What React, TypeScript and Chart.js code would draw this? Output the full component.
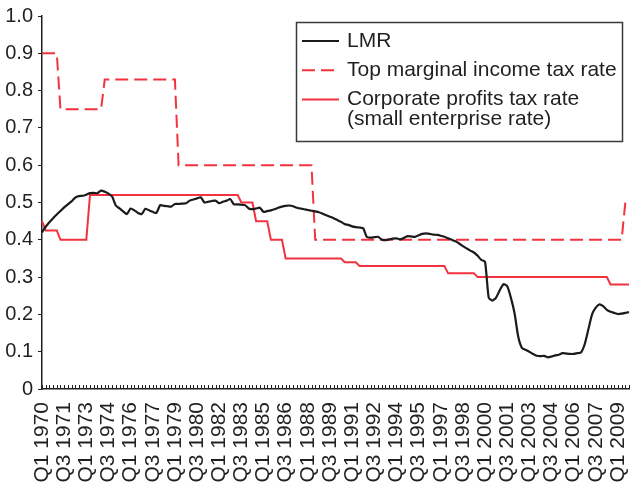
import React, { useEffect, useRef } from 'react';
import { Chart, registerables } from 'chart.js';

Chart.register(...registerables);

// ---- Data ----
const FIRST_YEAR = 1970;
const LAST_YEAR = 2009;
const quarterNames = ['Q1', 'Q2', 'Q3', 'Q4'];
const categories: string[] = [];
for (let y = FIRST_YEAR; y <= LAST_YEAR; y++) {
  for (const q of quarterNames) categories.push(`${q} ${y}`);
}
const LABEL_EVERY = 6; // a tick label every 6 quarters

const yTickValues = [0, 0.1, 0.2, 0.3, 0.4, 0.5, 0.6, 0.7, 0.8, 0.9, 1.0];

const seriesNames = [
  'LMR',
  'Top marginal income tax rate',
  'Corporate profits tax rate\n(small enterprise rate)',
];

// one row per year, Q1..Q4
const lmr = [
  0.42, 0.435, 0.447, 0.458, // 1970
  0.468, 0.477, 0.487, 0.495, // 1971
  0.503, 0.513, 0.517, 0.518, // 1972
  0.521, 0.525, 0.526, 0.525, // 1973
  0.532, 0.529, 0.524, 0.516, // 1974
  0.492, 0.484, 0.476, 0.469, // 1975
  0.484, 0.479, 0.472, 0.469, // 1976
  0.483, 0.479, 0.475, 0.472, // 1977
  0.493, 0.491, 0.49, 0.489, // 1978
  0.496, 0.496, 0.497, 0.498, // 1979
  0.505, 0.508, 0.511, 0.514, // 1980
  0.5, 0.502, 0.504, 0.505, // 1981
  0.498, 0.502, 0.505, 0.509, // 1982
  0.495, 0.495, 0.494, 0.493, // 1983
  0.484, 0.482, 0.484, 0.486, // 1984
  0.475, 0.477, 0.479, 0.482, // 1985
  0.486, 0.489, 0.491, 0.492, // 1986
  0.49, 0.486, 0.484, 0.482, // 1987
  0.48, 0.478, 0.476, 0.474, // 1988
  0.47, 0.466, 0.462, 0.458, // 1989
  0.453, 0.448, 0.442, 0.44, // 1990
  0.436, 0.434, 0.433, 0.431, // 1991
  0.407, 0.406, 0.407, 0.408, // 1992
  0.401, 0.399, 0.401, 0.403, // 1993
  0.404, 0.401, 0.405, 0.41, // 1994
  0.409, 0.408, 0.412, 0.416, // 1995
  0.417, 0.416, 0.414, 0.413, // 1996
  0.411, 0.408, 0.404, 0.4, // 1997
  0.396, 0.39, 0.383, 0.377, // 1998
  0.371, 0.366, 0.357, 0.346, // 1999
  0.341, 0.245, 0.237, 0.245, // 2000
  0.265, 0.281, 0.276, 0.245, // 2001
  0.203, 0.14, 0.11, 0.105, // 2002
  0.1, 0.094, 0.089, 0.088, // 2003
  0.089, 0.085, 0.087, 0.09, // 2004
  0.092, 0.096, 0.095, 0.094, // 2005
  0.094, 0.096, 0.098, 0.12, // 2006
  0.16, 0.2, 0.218, 0.227, // 2007
  0.222, 0.212, 0.207, 0.204, // 2008
  0.201, 0.202, 0.204, 0.206, // 2009
];

const topMarginalRate = [
  0.9, 0.9, 0.9, 0.9, // 1970
  0.9, 0.75, 0.75, 0.75, // 1971
  0.75, 0.75, 0.75, 0.75, // 1972
  0.75, 0.75, 0.75, 0.75, // 1973
  0.75, 0.83, 0.83, 0.83, // 1974
  0.83, 0.83, 0.83, 0.83, // 1975
  0.83, 0.83, 0.83, 0.83, // 1976
  0.83, 0.83, 0.83, 0.83, // 1977
  0.83, 0.83, 0.83, 0.83, // 1978
  0.83, 0.6, 0.6, 0.6, // 1979
  0.6, 0.6, 0.6, 0.6, // 1980
  0.6, 0.6, 0.6, 0.6, // 1981
  0.6, 0.6, 0.6, 0.6, // 1982
  0.6, 0.6, 0.6, 0.6, // 1983
  0.6, 0.6, 0.6, 0.6, // 1984
  0.6, 0.6, 0.6, 0.6, // 1985
  0.6, 0.6, 0.6, 0.6, // 1986
  0.6, 0.6, 0.6, 0.6, // 1987
  0.6, 0.6, 0.4, 0.4, // 1988
  0.4, 0.4, 0.4, 0.4, // 1989
  0.4, 0.4, 0.4, 0.4, // 1990
  0.4, 0.4, 0.4, 0.4, // 1991
  0.4, 0.4, 0.4, 0.4, // 1992
  0.4, 0.4, 0.4, 0.4, // 1993
  0.4, 0.4, 0.4, 0.4, // 1994
  0.4, 0.4, 0.4, 0.4, // 1995
  0.4, 0.4, 0.4, 0.4, // 1996
  0.4, 0.4, 0.4, 0.4, // 1997
  0.4, 0.4, 0.4, 0.4, // 1998
  0.4, 0.4, 0.4, 0.4, // 1999
  0.4, 0.4, 0.4, 0.4, // 2000
  0.4, 0.4, 0.4, 0.4, // 2001
  0.4, 0.4, 0.4, 0.4, // 2002
  0.4, 0.4, 0.4, 0.4, // 2003
  0.4, 0.4, 0.4, 0.4, // 2004
  0.4, 0.4, 0.4, 0.4, // 2005
  0.4, 0.4, 0.4, 0.4, // 2006
  0.4, 0.4, 0.4, 0.4, // 2007
  0.4, 0.4, 0.4, 0.4, // 2008
  0.4, 0.4, 0.5, 0.5, // 2009
];

const corporateRate = [
  0.45, 0.425, 0.425, 0.425, // 1970
  0.425, 0.4, 0.4, 0.4, // 1971
  0.4, 0.4, 0.4, 0.4, // 1972
  0.4, 0.52, 0.52, 0.52, // 1973
  0.52, 0.52, 0.52, 0.52, // 1974
  0.52, 0.52, 0.52, 0.52, // 1975
  0.52, 0.52, 0.52, 0.52, // 1976
  0.52, 0.52, 0.52, 0.52, // 1977
  0.52, 0.52, 0.52, 0.52, // 1978
  0.52, 0.52, 0.52, 0.52, // 1979
  0.52, 0.52, 0.52, 0.52, // 1980
  0.52, 0.52, 0.52, 0.52, // 1981
  0.52, 0.52, 0.52, 0.52, // 1982
  0.52, 0.52, 0.5, 0.5, // 1983
  0.5, 0.5, 0.45, 0.45, // 1984
  0.45, 0.45, 0.4, 0.4, // 1985
  0.4, 0.4, 0.35, 0.35, // 1986
  0.35, 0.35, 0.35, 0.35, // 1987
  0.35, 0.35, 0.35, 0.35, // 1988
  0.35, 0.35, 0.35, 0.35, // 1989
  0.35, 0.35, 0.34, 0.34, // 1990
  0.34, 0.34, 0.33, 0.33, // 1991
  0.33, 0.33, 0.33, 0.33, // 1992
  0.33, 0.33, 0.33, 0.33, // 1993
  0.33, 0.33, 0.33, 0.33, // 1994
  0.33, 0.33, 0.33, 0.33, // 1995
  0.33, 0.33, 0.33, 0.33, // 1996
  0.33, 0.33, 0.31, 0.31, // 1997
  0.31, 0.31, 0.31, 0.31, // 1998
  0.31, 0.31, 0.3, 0.3, // 1999
  0.3, 0.3, 0.3, 0.3, // 2000
  0.3, 0.3, 0.3, 0.3, // 2001
  0.3, 0.3, 0.3, 0.3, // 2002
  0.3, 0.3, 0.3, 0.3, // 2003
  0.3, 0.3, 0.3, 0.3, // 2004
  0.3, 0.3, 0.3, 0.3, // 2005
  0.3, 0.3, 0.3, 0.3, // 2006
  0.3, 0.3, 0.3, 0.3, // 2007
  0.3, 0.3, 0.28, 0.28, // 2008
  0.28, 0.28, 0.28, 0.28, // 2009
];

// ---- Styles ----
const FONT = '"Liberation Sans", Arial, Helvetica, sans-serif';
const TEXT = '#231f20';
const BLACK = '#1c1a1b';
const RED = '#f2333f';

const innerTicksAndLegend = {
  id: 'innerTicksAndLegend',
  afterDraw(chart: any) {
    const { ctx, chartArea, scales } = chart;
    const xs = scales.x;
    ctx.save();
    // x-axis tick marks pointing into the plot, one per quarter
    ctx.strokeStyle = TEXT;
    ctx.lineWidth = 1;
    ctx.beginPath();
    for (let i = 0; i < categories.length; i++) {
      const px = Math.round(xs.getPixelForValue(i)) + 0.5;
      ctx.moveTo(px, chartArea.bottom);
      ctx.lineTo(px, chartArea.bottom - 4);
    }
    ctx.stroke();

    // legend box
    const bx = 296.5, by = 22.5, bw = 326, bh = 119;
    ctx.lineWidth = 1.5;
    ctx.strokeStyle = '#3a3a3a';
    ctx.strokeRect(bx, by, bw, bh);

    ctx.font = `21px ${FONT}`;
    ctx.fillStyle = TEXT;
    ctx.textBaseline = 'middle';
    ctx.textAlign = 'left';
    let y = 41;
    chart.data.datasets.forEach((ds: any) => {
      const lines = String(ds.label).split('\n');
      ctx.strokeStyle = ds.borderColor;
      ctx.lineWidth = 2;
      ctx.setLineDash(ds.borderDash || []);
      ctx.beginPath();
      ctx.moveTo(302, y);
      ctx.lineTo(339, y);
      ctx.stroke();
      ctx.setLineDash([]);
      lines.forEach((ln: string, k: number) => {
        ctx.fillText(ln, 347, y + k * 20);
      });
      y += 29.3 + (lines.length - 1) * 20;
    });
    ctx.restore();
  },
};

export default function App() {
  const ref = useRef<HTMLCanvasElement>(null);

  useEffect(() => {
    const chart = new Chart(ref.current as HTMLCanvasElement, {
      type: 'line',
      data: {
        labels: categories,
        datasets: [
          {
            label: seriesNames[0],
            data: lmr,
            borderColor: BLACK,
            borderWidth: 2.2,
            pointRadius: 0,
            tension: 0.2,
            order: 0,
          },
          {
            label: seriesNames[1],
            data: topMarginalRate,
            borderColor: RED,
            borderWidth: 2,
            borderDash: [13, 6],
            pointRadius: 0,
            tension: 0,
            order: 1,
          },
          {
            label: seriesNames[2],
            data: corporateRate,
            borderColor: RED,
            borderWidth: 2,
            pointRadius: 0,
            tension: 0,
            order: 2,
          },
        ],
      },
      options: {
        animation: false,
        responsive: false,
        layout: { padding: { top: 16, right: 1, left: 0, bottom: 0 } },
        plugins: {
          legend: { display: false },
          tooltip: { enabled: false },
        },
        scales: {
          x: {
            type: 'category',
            offset: false,
            grid: { display: false, drawTicks: false },
            border: { display: true, color: TEXT, width: 1.5 },
            ticks: {
              autoSkip: false,
              minRotation: 90,
              maxRotation: 90,
              padding: 13,
              color: TEXT,
              font: { size: 21, family: FONT },
              callback: (_v: any, i: number) => (i % LABEL_EVERY === 0 ? categories[i] : ''),
            },
            afterFit: (s: any) => {
              s.height = 98;
              s.paddingLeft = 0;
              s.paddingRight = 0;
            },
          },
          y: {
            min: 0,
            max: 1,
            afterBuildTicks: (s: any) => {
              s.ticks = yTickValues.map((v) => ({ value: v }));
            },
            grid: { drawOnChartArea: false, drawTicks: true, tickLength: 4, color: TEXT, lineWidth: 1 },
            border: { display: true, color: TEXT, width: 1.5 },
            ticks: {
              padding: 5,
              color: TEXT,
              font: { size: 20, family: FONT },
              callback: (v: any) => (Number(v) === 0 ? '0' : Number(v).toFixed(1)),
            },
            afterFit: (s: any) => {
              s.width = 42;
              s.paddingTop = 0;
              s.paddingBottom = 0;
            },
          },
        },
      },
      plugins: [innerTicksAndLegend],
    } as any);
    return () => chart.destroy();
  }, []);

  return (
    <div style={{ position: 'absolute', left: 0, top: 0, width: 630, height: 487, background: '#fff' }}>
      <canvas ref={ref} width={630} height={487} style={{ display: 'block' }} />
    </div>
  );
}
